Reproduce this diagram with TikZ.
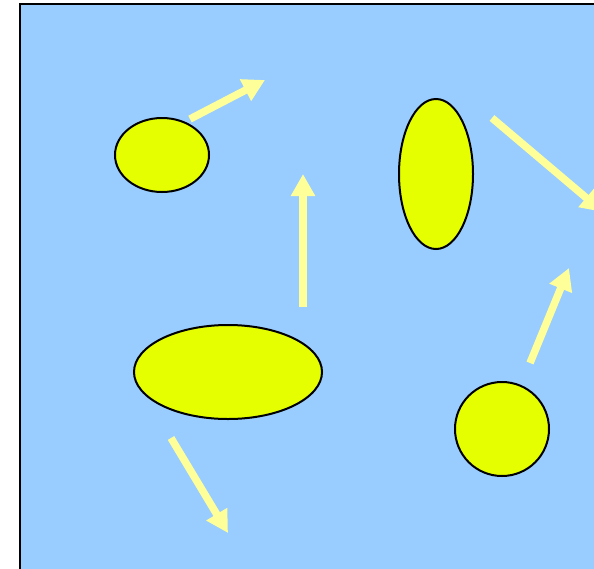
\documentclass[tikz,border=0pt]{standalone}
\usetikzlibrary{arrows.meta,shapes.geometric}
\definecolor{bg}{HTML}{99CCFF}
\definecolor{blob}{HTML}{E5FF00}
\definecolor{arr}{HTML}{FFFF99}
\begin{document}
\begin{tikzpicture}[x=1pt,y=-1pt,
  blobstyle/.style={draw=black,line width=2pt,fill=blob},
  mover/.style={draw=arr,line width=7.5pt,-{Triangle[length=22pt,width=23pt]}}]
\useasboundingbox (0,0) rectangle (594,568);
\clip (0,0) rectangle (594,568);
\draw[fill=bg,line width=2pt] (20,4) rectangle (620,590);
\node[blobstyle,ellipse,minimum width=94pt,minimum height=74pt,inner sep=0pt] (a) at (162,155) {};
\node[blobstyle,ellipse,minimum width=74pt,minimum height=150pt,inner sep=0pt] (b) at (436,174) {};
\node[blobstyle,ellipse,minimum width=188pt,minimum height=94pt,inner sep=0pt] (c) at (228,372) {};
\node[blobstyle,circle,minimum size=94pt,inner sep=0pt] (d) at (502,429) {};
\coordinate (a1) at (190,119); \coordinate (a2) at (265,80);
\coordinate (b1) at (492,118); \coordinate (b2) at (603,212);
\coordinate (c1) at (303,307); \coordinate (c2) at (303,174);
\coordinate (d1) at (530,363); \coordinate (d2) at (569,268);
\coordinate (e1) at (171,438); \coordinate (e2) at (228,533);
\draw[mover] (a1) -- (a2);
\draw[mover] (b1) -- (b2);
\draw[mover] (c1) -- (c2);
\draw[mover] (d1) -- (d2);
\draw[mover] (e1) -- (e2);
\end{tikzpicture}
\end{document}
